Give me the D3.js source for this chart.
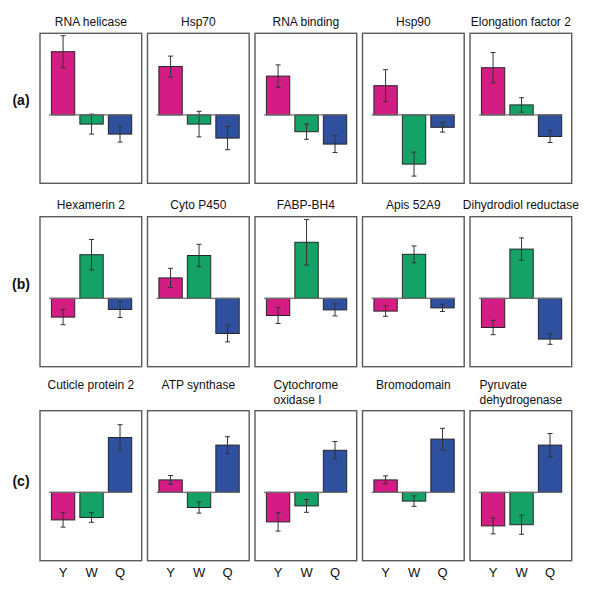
<!DOCTYPE html>
<html>
<head>
<meta charset="utf-8">
<script src="https://cdn.jsdelivr.net/npm/d3@7"></script>
<style>
  body { margin: 0; background: #fff; }
  text { font-family: "Liberation Sans", Arial, sans-serif; fill: #111; }
</style>
</head>
<body>
<svg class="chart" width="600" height="594"></svg>
<script>
// gene panels, row by row: (a) up in Y, (b) up in W, (c) up in Q
var genes = [
    "RNA helicase", "Hsp70", "RNA binding", "Hsp90", "Elongation factor 2",
    "Hexamerin 2", "Cyto P450", "FABP-BH4", "Apis 52A9", "Dihydrodiol reductase",
    "Cuticle protein 2", "ATP synthase", "Cytochrome\noxidase I", "Bromodomain", "Pyruvate\ndehydrogenase"
];
var rowLabels = ["(a)", "(b)", "(c)"];
var groups = ["Y", "W", "Q"];

// relative expression
var yMean = [1.58, 1.21, 0.97, 0.73, 1.18, -0.47, 0.51, -0.43, -0.32, -0.73, -0.69, 0.31, -0.74, 0.31, -0.84];
var wMean = [-0.23, -0.23, -0.42, -1.23, 0.25, 1.09, 1.07, 1.40, 1.10, 1.23, -0.63, -0.38, -0.34, -0.22, -0.81];
var qMean = [-0.48, -0.58, -0.73, -0.31, -0.54, -0.28, -0.88, -0.29, -0.24, -1.02, 1.37, 1.18, 1.05, 1.33, 1.18];

// standard errors
var yErr = [0.40, 0.26, 0.28, 0.40, 0.38, 0.19, 0.24, 0.20, 0.13, 0.18, 0.18, 0.11, 0.23, 0.10, 0.20];
var wErr = [0.25, 0.32, 0.19, 0.30, 0.18, 0.38, 0.28, 0.57, 0.21, 0.28, 0.12, 0.14, 0.16, 0.13, 0.24];
var qErr = [0.20, 0.29, 0.21, 0.12, 0.15, 0.20, 0.21, 0.15, 0.09, 0.13, 0.32, 0.21, 0.22, 0.27, 0.29];

var colors = { Y: "#d31c84", W: "#15a267", Q: "#2f4f9f" };

var svg = d3.select(".chart");

var panelH = 150,
    rowTops = [33.3, 216.7, 410.7],
    titleY = [26, 208.5, 388.5],
    rowLabelY = [105, 289, 486];

// columns of panels
var col = d3.scaleBand()
    .domain(d3.range(5))
    .range([40, 571.7])
    .paddingInner(0.054);

var pw = col.bandwidth();

// bars inside a panel
var x = d3.scaleBand()
    .domain(groups)
    .range([11.4, 91.7])
    .paddingInner(0.18);

var y = d3.scaleLinear()
    .domain([-1.71, 2.04])
    .range([panelH, 0]);

var data = genes.map(function (name, i) {
    return {
        name: name,
        row: Math.floor(i / 5),
        col: i % 5,
        bars: [
            { g: "Y", v: yMean[i], e: yErr[i] },
            { g: "W", v: wMean[i], e: wErr[i] },
            { g: "Q", v: qMean[i], e: qErr[i] }
        ]
    };
});

var panels = svg.selectAll(".panel")
    .data(data)
    .enter()
    .append("g")
    .attr("class", "panel")
    .attr("transform", function (d) {
        return "translate(" + col(d.col) + "," + rowTops[d.row] + ")";
    });

panels.append("rect")
    .attr("x", 0)
    .attr("y", 0)
    .attr("width", pw)
    .attr("height", panelH)
    .attr("fill", "none")
    .attr("stroke", "#5a5a5a")
    .attr("stroke-width", 1.4);

var bars = panels.selectAll(".bar")
    .data(function (d) { return d.bars; })
    .enter()
    .append("g");

bars.append("rect")
    .attr("class", "bar")
    .attr("x", function (d) { return x(d.g); })
    .attr("width", x.bandwidth())
    .attr("y", function (d) { return y(Math.max(0, d.v)); })
    .attr("height", function (d) { return Math.abs(y(d.v) - y(0)); })
    .attr("fill", function (d) { return colors[d.g]; })
    .attr("stroke", "#262626")
    .attr("stroke-width", 1);

// zero line
panels.append("line")
    .attr("x1", x("Y") - 2.3)
    .attr("x2", x("Q") + x.bandwidth())
    .attr("y1", y(0))
    .attr("y2", y(0))
    .attr("stroke", "#6e6e6e")
    .attr("stroke-width", 1.2);

// error bars
var cx = function (d) { return x(d.g) + x.bandwidth() / 2; };
bars.append("line")
    .attr("x1", cx).attr("x2", cx)
    .attr("y1", function (d) { return y(d.v + d.e); })
    .attr("y2", function (d) { return y(d.v - d.e); })
    .attr("stroke", "#333").attr("stroke-width", 1);
[1, -1].forEach(function (s) {
    bars.append("line")
        .attr("x1", function (d) { return cx(d) - 2.5; })
        .attr("x2", function (d) { return cx(d) + 2.5; })
        .attr("y1", function (d) { return y(d.v + s * d.e); })
        .attr("y2", function (d) { return y(d.v + s * d.e); })
        .attr("stroke", "#333").attr("stroke-width", 1);
});

// panel titles; two-line titles are left-aligned and centred as a block
panels.each(function (d) {
    var g = d3.select(this),
        lines = d.name.split("\n"),
        t = g.append("text")
            .attr("y", titleY[d.row] - rowTops[d.row])
            .attr("font-size", 12);
    if (lines.length === 1) {
        t.attr("x", pw / 2).attr("text-anchor", "middle").text(d.name);
        return;
    }
    lines.forEach(function (l, i) {
        t.append("tspan").attr("dy", i ? 15 : 0).text(l);
    });
    var maxW = 0;
    t.selectAll("tspan").each(function () {
        maxW = Math.max(maxW, this.getComputedTextLength());
    });
    t.selectAll("tspan").attr("x", pw / 2 - maxW / 2);
});

// row labels
svg.selectAll(".rowlabel")
    .data(rowLabels)
    .enter()
    .append("text")
    .attr("class", "rowlabel")
    .attr("x", 21)
    .attr("y", function (d, i) { return rowLabelY[i]; })
    .attr("text-anchor", "middle")
    .attr("font-size", 14)
    .attr("font-weight", "bold")
    .text(function (d) { return d; });

// group labels under the bottom row
var bottom = rowTops[2] + panelH;
d3.range(5).forEach(function (c) {
    svg.append("g")
        .attr("transform", "translate(" + col(c) + "," + (bottom + 16) + ")")
        .selectAll("text")
        .data(groups)
        .enter()
        .append("text")
        .attr("x", function (d) { return x(d) + x.bandwidth() / 2; })
        .attr("text-anchor", "middle")
        .attr("font-size", 13)
        .text(function (d) { return d; });
});
</script>
</body>
</html>
